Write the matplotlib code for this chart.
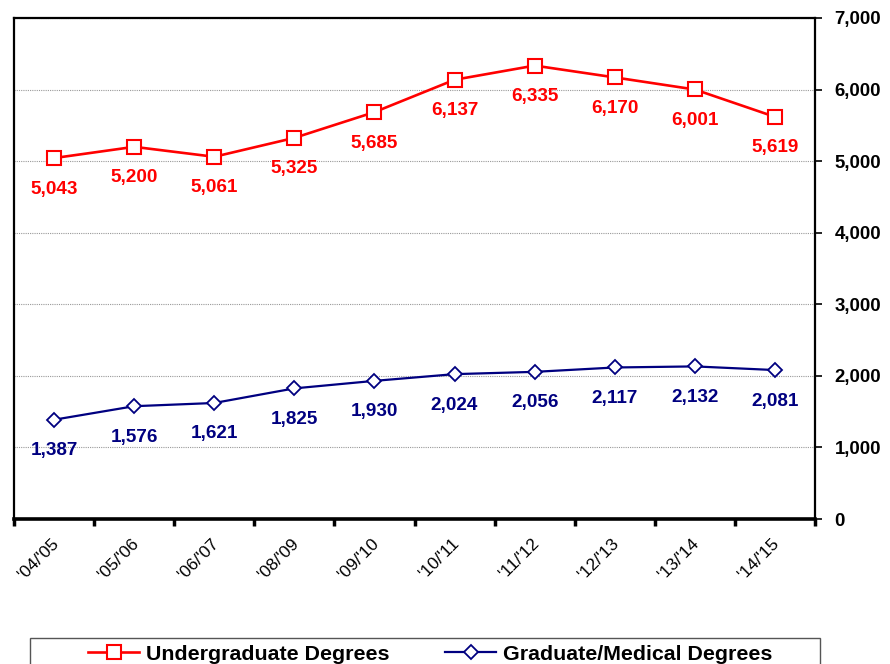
import numpy as np
import matplotlib
matplotlib.use("Agg")
import matplotlib.pyplot as plt
import matplotlib.transforms as mtrans
from matplotlib.patches import Rectangle

plt.rcParams['font.family'] = ['Liberation Sans', 'DejaVu Sans']

years = ["'04/'05", "'05/'06", "'06/'07", "'08/'09", "'09/'10",
         "'10/'11", "'11/'12", "'12/'13", "'13/'14", "'14/'15"]
undergrad = [5043, 5200, 5061, 5325, 5685, 6137, 6335, 6170, 6001, 5619]
graduate = [1387, 1576, 1621, 1825, 1930, 2024, 2056, 2117, 2132, 2081]

red = "#FF0000"
navy = "#000080"

fig = plt.figure(figsize=(8.9, 6.64), dpi=100)
ax = fig.add_axes([14/890, 1-519/664, 801/890, 501/664])

x = np.arange(len(years))
ax.plot(x, undergrad, color=red, lw=1.9, marker='s', ms=10.5,
        mfc='white', mec=red, mew=1.5, label="Undergraduate Degrees", zorder=3)
ax.plot(x, graduate, color=navy, lw=1.6, marker='D', ms=7,
        mfc='white', mec=navy, mew=1.3, label="Graduate/Medical Degrees", zorder=3)

for i in range(len(x)):
    ax.annotate(f"{undergrad[i]:,}", (x[i], undergrad[i]), xytext=(0, -31),
                textcoords='offset pixels', ha='center', va='center',
                color=red, fontsize=13.6, fontweight='bold')
    ax.annotate(f"{graduate[i]:,}", (x[i], graduate[i]), xytext=(0, -31),
                textcoords='offset pixels', ha='center', va='center',
                color=navy, fontsize=13.6, fontweight='bold')

ax.set_xlim(-0.5, len(years) - 0.5)
ax.set_ylim(0, 7000)
ax.set_yticks(range(0, 7001, 1000))
ax.set_yticklabels([f"{v:,}" for v in range(0, 7001, 1000)],
                   fontsize=13.4, fontweight='bold')
ax.yaxis.tick_right()
ax.tick_params(axis='y', direction='out', length=5, width=1.2, pad=9)
ax.grid(axis='y', color='#999999', ls=(0, (1, 1)), lw=0.8)
ax.set_axisbelow(True)

ax.set_xticks(x)
ax.set_xticklabels(years, rotation=45, ha='right', va='center',
                   rotation_mode='anchor', fontsize=12.5)
ax.set_xticks(np.arange(-0.5, len(years), 1), minor=True)
ax.tick_params(axis='x', which='major', length=0, pad=16)
ax.tick_params(axis='x', which='minor', direction='out', length=5, width=2.5)
off = mtrans.ScaledTranslation(2/100, 0, fig.dpi_scale_trans)
for lab in ax.get_xticklabels():
    lab.set_transform(lab.get_transform() + off)

for s in ['left', 'right', 'top']:
    ax.spines[s].set_linewidth(1.6)
ax.spines['bottom'].set_linewidth(2.6)

# legend box (cut by the figure edge)
fig.patches.append(Rectangle((30/890, -0.02), 790/890, 0.02 + 26/664,
                             transform=fig.transFigure, fill=False,
                             edgecolor='#555555', lw=1))
h, l = ax.get_legend_handles_labels()
fig.legend(h, l, loc='center', bbox_to_anchor=(430/890, 1-654/664), ncol=2,
           frameon=False, prop={'weight': 'bold', 'size': 15.4},
           handlelength=2.4, handletextpad=0.3, columnspacing=2.6)

fig.savefig("out.png", dpi=100)
